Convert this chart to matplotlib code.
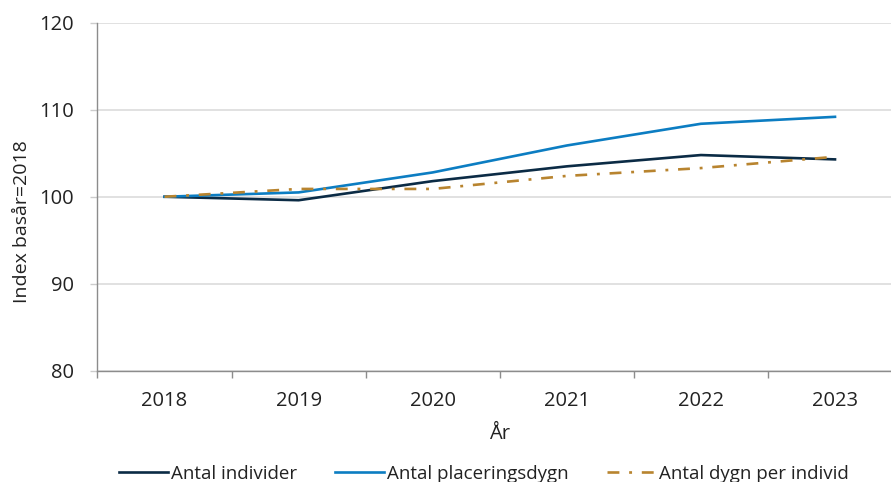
import matplotlib
matplotlib.use("Agg")
import matplotlib.pyplot as plt
from matplotlib.ticker import FixedLocator

plt.rcParams['font.family'] = ['Open Sans', 'DejaVu Sans']

years = ['2018', '2019', '2020', '2021', '2022', '2023']
individer = [100.0, 99.6, 101.8, 103.5, 104.8, 104.3]
placeringsdygn = [100.0, 100.5, 102.8, 105.9, 108.4, 109.2]
dygn_per_individ = [100.0, 100.9, 100.9, 102.4, 103.3, 104.6]

navy = '#0b2b45'
blue = '#0c7dc2'
gold = '#b8842f'
grey = '#8c8c8c'

fig = plt.figure(figsize=(8.91, 4.82), dpi=100)
ax = fig.add_axes([0.1094, 0.2313, 0.903, 0.721])

x = list(range(len(years)))
ax.plot(x, individer, color=navy, lw=1.9, label='Antal individer')
ax.plot(x, placeringsdygn, color=blue, lw=1.9, label='Antal placeringsdygn')
ax.plot(x, dygn_per_individ, color=gold, lw=1.9, dashes=[4.5, 3.7, 1.1, 3.7],
        label='Antal dygn per individ')

ax.set_xlim(-0.5, len(years) - 0.5)
ax.set_ylim(80, 120)
ax.set_yticks([80, 90, 100, 110, 120])
ax.grid(axis='y', color='#d9d9d9', lw=1.1)
ax.set_axisbelow(True)

ax.set_xticks(x)
ax.set_xticklabels(years)
ax.xaxis.set_minor_locator(FixedLocator([i - 0.5 for i in range(len(years) + 1)]))
ax.tick_params(axis='x', which='major', length=0, pad=15, labelsize=14.5, colors='#222222')
ax.tick_params(axis='x', which='minor', length=5, width=1, color=grey)
ax.tick_params(axis='y', length=5, width=1, color='#cccccc', pad=12, labelsize=14.5,
               labelcolor='#222222')

for side in ['top', 'right']:
    ax.spines[side].set_visible(False)
for side in ['left', 'bottom']:
    ax.spines[side].set_color(grey)
    ax.spines[side].set_linewidth(1)

ax.set_ylabel('Index basår=2018', fontsize=14, color='#222222')
ax.yaxis.set_label_coords(-0.083, 0.427)
ax.set_xlabel('År', fontsize=14.5, color='#222222', labelpad=9)

fig.legend(loc='center', bbox_to_anchor=(0.543, 0.017), ncol=3, frameon=False,
           fontsize=13.5, handlelength=2.6, handletextpad=0.2, columnspacing=2.0,
           labelcolor='#222222')

fig.savefig('out.png', dpi=100)
